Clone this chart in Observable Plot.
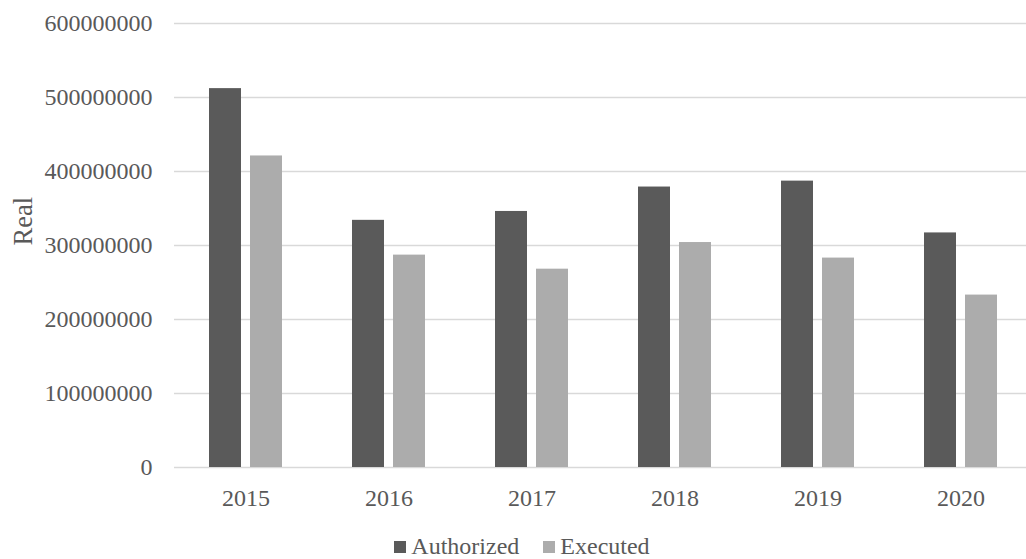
<!DOCTYPE html>
<html>
<head>
<meta charset="utf-8">
<script src="https://cdn.jsdelivr.net/npm/d3@7"></script>
<script src="https://cdn.jsdelivr.net/npm/@observablehq/plot@0.6"></script>
<style>
  html, body { margin: 0; padding: 0; background: #fff; overflow: hidden; }
  body { width: 1026px; height: 559px; font-family: "Liberation Serif", "Times New Roman", serif; }
  #chart svg { display: block; overflow: visible; }
  .legend { display: flex; justify-content: center; align-items: center; gap: 24px;
            font-size: 24px; color: #595959; margin-top: 13px; padding-left: 18px; padding-right: 0; }
  .legend span.item { display: flex; align-items: center; }
  .legend span.sw { display: inline-block; width: 12px; height: 12px; margin-right: 5px; }
</style>
</head>
<body>
<div id="chart"></div>
<div class="legend" id="legend"></div>
<script>
// Budget by year, in reais
const years = ["2015", "2016", "2017", "2018", "2019", "2020"];
const series = ["Authorized", "Executed"];
const authorized = [512000000, 334000000, 346000000, 379000000, 387000000, 317000000];
const executed = [421000000, 287000000, 268000000, 304000000, 283000000, 233000000];
const yTicks = [0, 100000000, 200000000, 300000000, 400000000, 500000000, 600000000];
const colors = ["#5a5a5a", "#acacac"];

const authorizedRows = years.map((year, i) => ({year, series: series[0], value: authorized[i]}));
const executedRows = years.map((year, i) => ({year, series: series[1], value: executed[i]}));

const textColor = "#595959";
const fontFamily = "'Liberation Serif', 'Times New Roman', serif";

// Each year band is 143px wide; the pair of 32px bars sits centred with a 9px gap.
const band = 143, barW = 32, gap = 9;
const side = (band - 2 * barW - gap) / 2;

const chart = Plot.plot({
  width: 1026,
  height: 520,
  marginTop: 23,
  marginBottom: 53,
  marginLeft: 174,
  marginRight: -6,
  style: {fontFamily, fontSize: "24px", color: textColor, background: "transparent", overflow: "visible"},
  x: {domain: years, padding: 0, label: null},
  y: {domain: [0, 600000000], label: null},
  color: {domain: series, range: colors},
  marks: [
    Plot.gridY(yTicks, {stroke: "#d9d9d9", strokeOpacity: 1, strokeWidth: 1.5}),
    Plot.axisY(yTicks, {tickSize: 0, tickPadding: 22, tickFormat: d => String(d), fill: textColor, fontSize: 24, label: null}),
    Plot.axisX({tickSize: 0, tickPadding: 21, fontSize: 24, fill: textColor, label: null}),
    Plot.barY(authorizedRows, {x: "year", y: "value", fill: "series", insetLeft: side, insetRight: side + barW + gap}),
    Plot.barY(executedRows, {x: "year", y: "value", fill: "series", insetLeft: side + barW + gap, insetRight: side}),
    Plot.text(["Real"], {frameAnchor: "left", dx: -151, rotate: -90, fontSize: 26.5, fill: textColor})
  ]
});
document.getElementById("chart").append(chart);

// Legend built from the same series and colors
const legend = document.getElementById("legend");
series.forEach((s, i) => {
  const item = document.createElement("span");
  item.className = "item";
  const sw = document.createElement("span");
  sw.className = "sw";
  sw.style.background = colors[i];
  item.append(sw, document.createTextNode(s));
  legend.append(item);
});
</script>
</body>
</html>
